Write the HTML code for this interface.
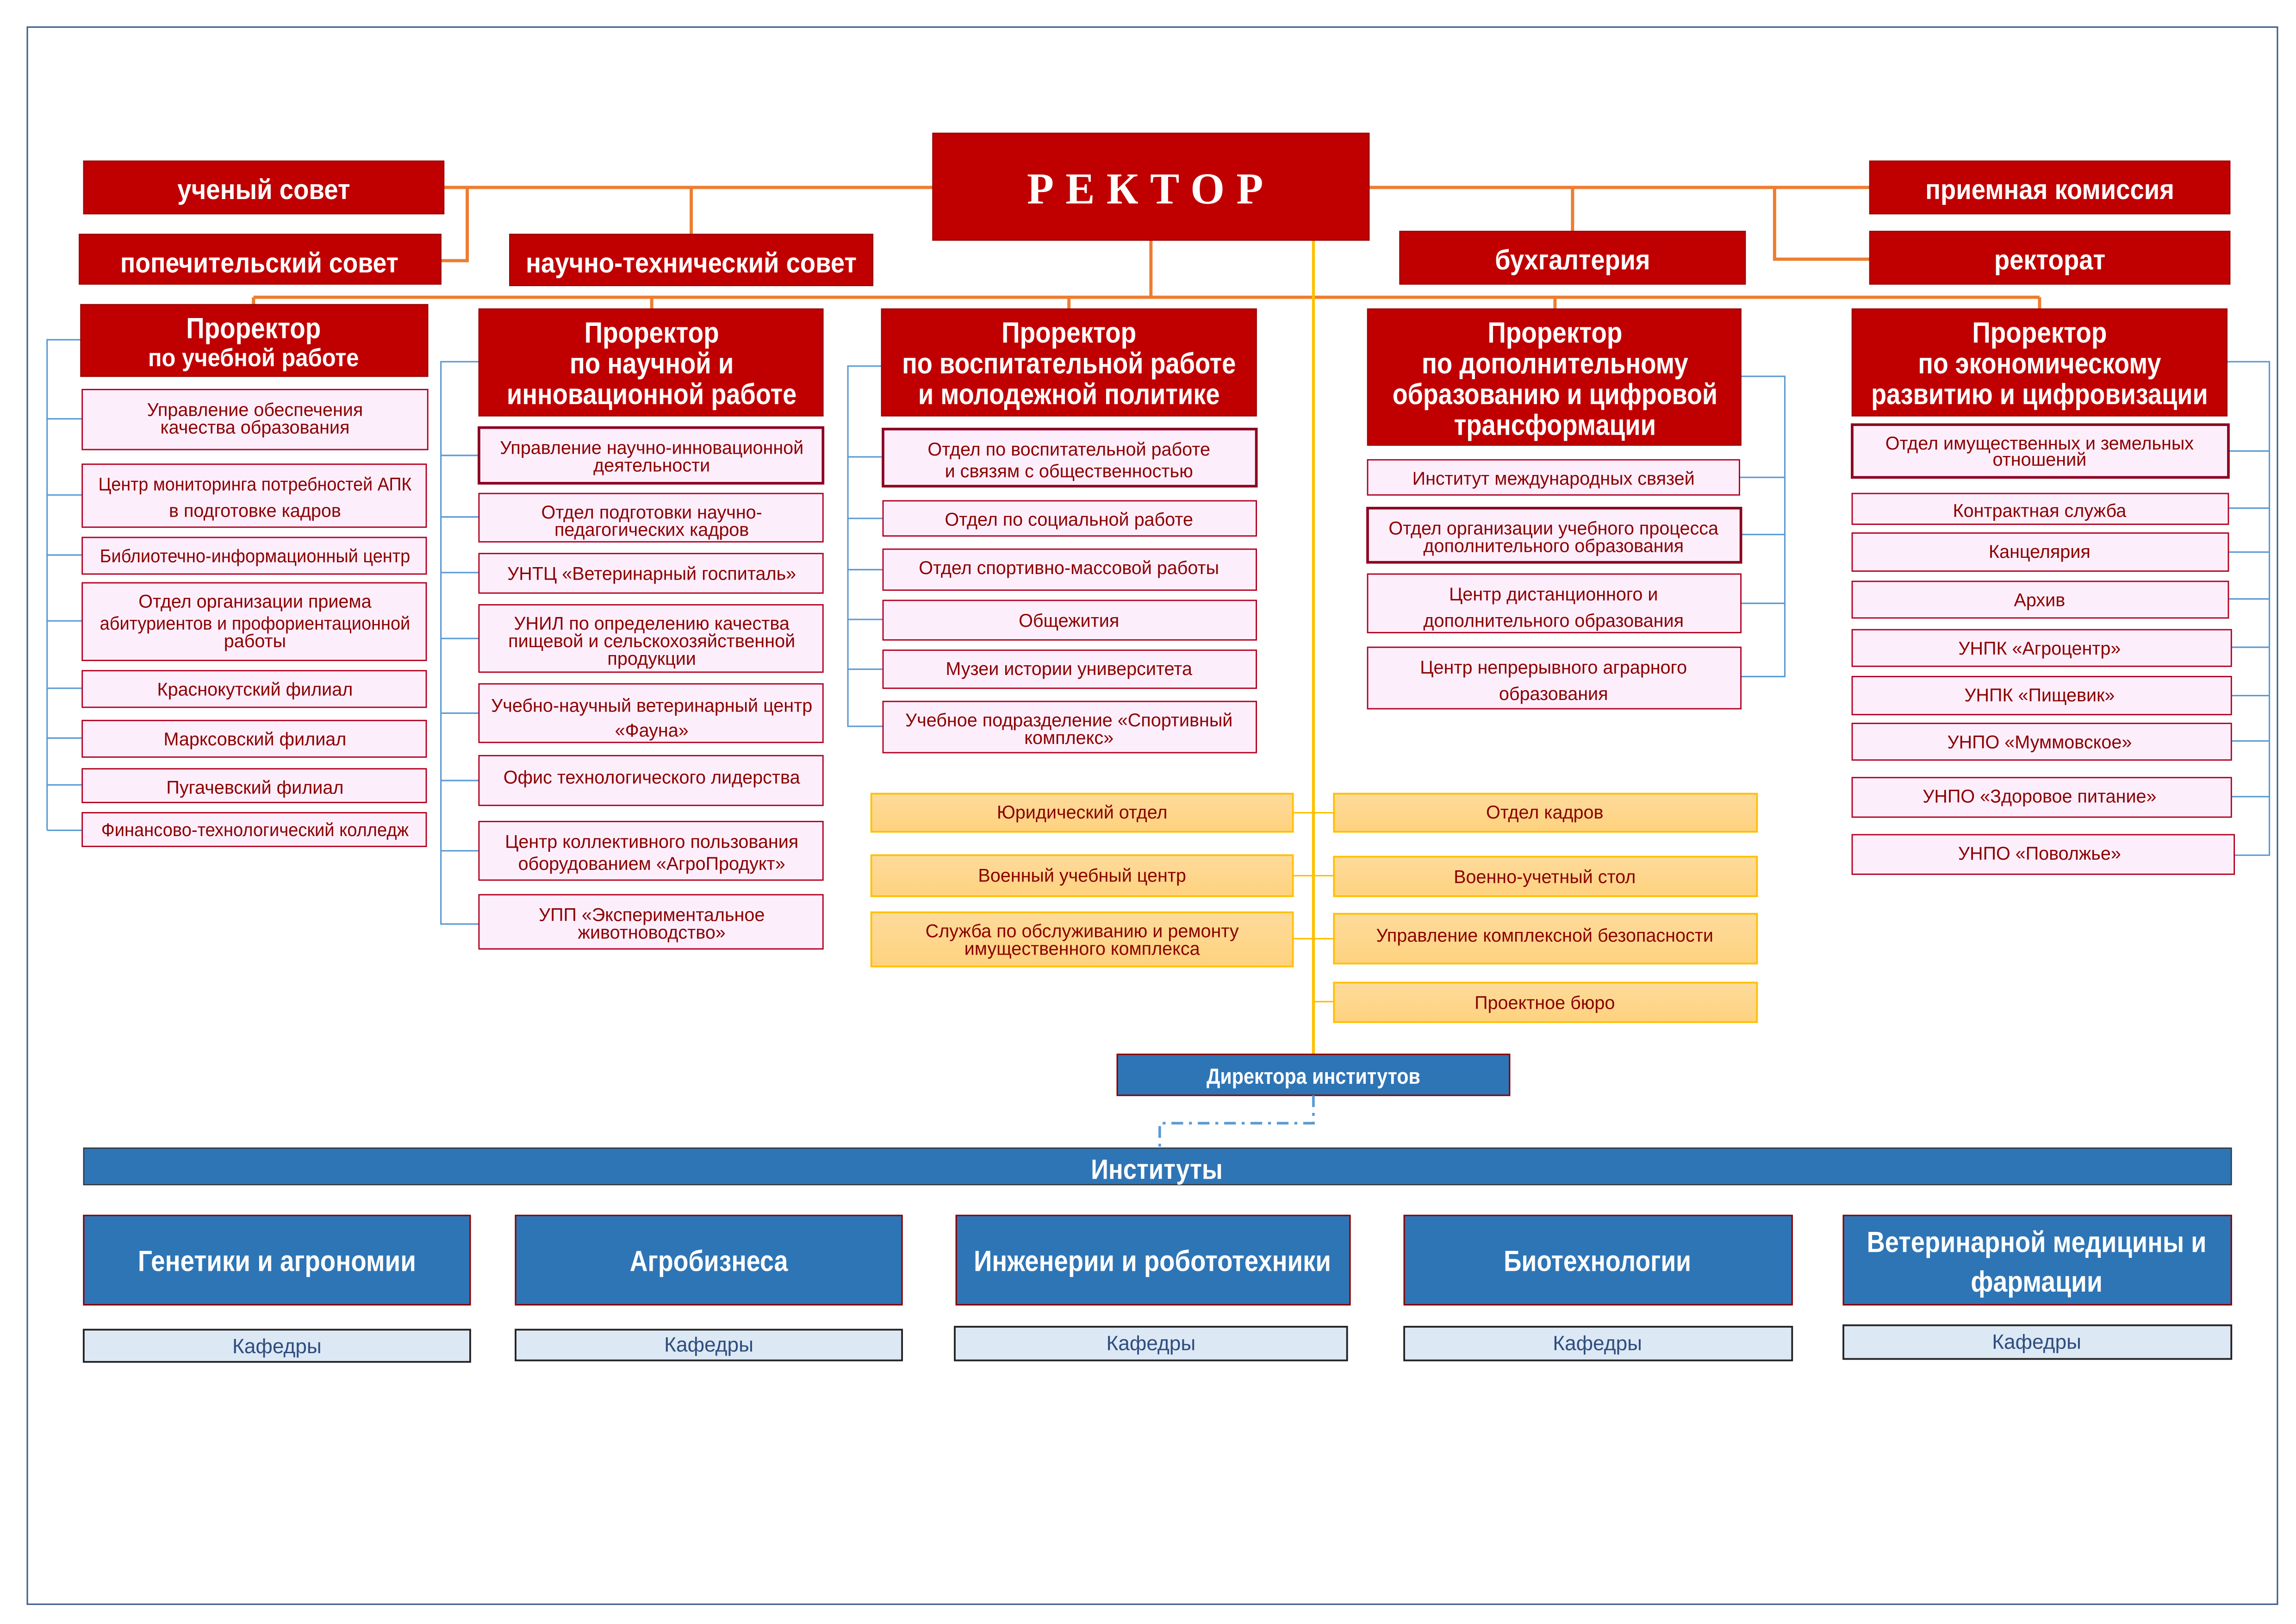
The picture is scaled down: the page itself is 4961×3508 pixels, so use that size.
<!DOCTYPE html>
<html><head><meta charset="utf-8"><style>
html,body{margin:0;padding:0;background:#fff;}
svg{display:block;}
text{font-family:"Liberation Sans Narrow","Liberation Sans","DejaVu Sans",sans-serif;text-anchor:middle;}
.w{fill:#fff;font-weight:bold;}
.d{fill:#8b0000;font-size:12.5px;}
.r{fill:#c00000;stroke:#9a0000;stroke-width:0.8;}
.p{fill:#fdeefc;stroke:#b00020;stroke-width:0.9;}
.pt{fill:#fdeefc;stroke:#8b0020;stroke-width:1.8;}
.y{fill:url(#yg);stroke:#ffc000;stroke-width:1.2;}
.o{stroke:#ed7d31;stroke-width:2.2;fill:none;}
.b{stroke:#5b9bd5;stroke-width:1;fill:none;}
.yl{stroke:#ffc000;stroke-width:2;fill:none;}
.bl{fill:#2e75b6;stroke:#8b0000;stroke-width:1;}
.k{fill:#dde8f5;stroke:#222;stroke-width:1.2;}
.kt{fill:#2e4e7e;font-size:14px;}
</style></head><body>
<svg width="4961" height="3508" viewBox="0 0 1568 1109" xmlns="http://www.w3.org/2000/svg">
<defs><linearGradient id="yg" x1="0" y1="0" x2="0" y2="1"><stop offset="0" stop-color="#fedb9c"/><stop offset="1" stop-color="#fed27e"/></linearGradient></defs>
<rect x="0" y="0" width="1568" height="1109" fill="#fff"/>
<rect x="18.5" y="18.5" width="1537" height="1077" fill="none" stroke="#3f5f8f" stroke-width="1"/>

<path class="o" d="M303 128H637M319 128V178H301M472 128V160M935 128H1277M1074 128V158M1212 128V177H1277M786 164V203M173 203H1393M173 203V208M445 203V211M730 203V211M1062 203V211M1393 203V211"/>
<path class="yl" d="M897 164V720"/>
<path class="yl" style="stroke-width:1" d="M883 555H911M883 598H911M883 641H911M897 684H911"/>

<path class="b" d="M55 232H32V567M32 286H56M32 338H56M32 379H56M32 424H56M32 470H56M32 504H56M32 536H56M32 567H56"/>
<path class="b" d="M327 247H301V631H327M301 311H327M301 353H327M301 391H327M301 436H327M301 487H327M301 533H327M301 581H327"/>
<path class="b" d="M602 250H579V496H603M579 312H603M579 354H603M579 389H603M579 423H603M579 457H603"/>
<path class="b" d="M1189 257H1219V462H1189M1188 326H1219M1189 365H1219M1189 412H1219"/>
<path class="b" d="M1521 247H1550V584H1526M1522 308H1550M1522 347H1550M1522 377H1550M1522 409H1550M1524 442H1550M1524 475H1550M1524 506H1550M1524 544H1550"/>

<rect class="r" x="637" y="91" width="298" height="73"/>
<text x="786" y="139" style="font-family:'Liberation Serif',serif;font-size:30px;letter-spacing:8px;font-weight:bold" fill="#fff">РЕКТОР</text>

<rect class="r" x="57" y="110" width="246" height="36"/><text class="w" x="180" y="136" font-size="19" textLength="118" lengthAdjust="spacingAndGlyphs">ученый совет</text>
<rect class="r" x="54" y="160" width="247" height="34"/><text class="w" x="177" y="186" font-size="19" textLength="190" lengthAdjust="spacingAndGlyphs">попечительский совет</text>
<rect class="r" x="348" y="160" width="248" height="35"/><text class="w" x="472" y="186" font-size="19" textLength="226" lengthAdjust="spacingAndGlyphs">научно-технический совет</text>
<rect class="r" x="956" y="158" width="236" height="36"/><text class="w" x="1074" y="184" font-size="19" textLength="106" lengthAdjust="spacingAndGlyphs">бухгалтерия</text>
<rect class="r" x="1277" y="110" width="246" height="36"/><text class="w" x="1400" y="136" font-size="19" textLength="170" lengthAdjust="spacingAndGlyphs">приемная комиссия</text>
<rect class="r" x="1277" y="158" width="246" height="36"/><text class="w" x="1400" y="184" font-size="19" textLength="76" lengthAdjust="spacingAndGlyphs">ректорат</text>

<rect class="r" x="55" y="208" width="237" height="49"/>
<text class="w" x="173" y="231" font-size="20" textLength="92" lengthAdjust="spacingAndGlyphs">Проректор</text><text class="w" x="173" y="250" font-size="17" textLength="144" lengthAdjust="spacingAndGlyphs">по учебной работе</text>
<rect class="r" x="327" y="211" width="235" height="73"/>
<text class="w" x="445" y="234" font-size="20" textLength="92" lengthAdjust="spacingAndGlyphs">Проректор</text><text class="w" x="445" y="255" font-size="20" textLength="112" lengthAdjust="spacingAndGlyphs">по научной и</text><text class="w" x="445" y="276" font-size="20" textLength="198" lengthAdjust="spacingAndGlyphs">инновационной работе</text>
<rect class="r" x="602" y="211" width="256" height="73"/>
<text class="w" x="730" y="234" font-size="20" textLength="92" lengthAdjust="spacingAndGlyphs">Проректор</text><text class="w" x="730" y="255" font-size="20" textLength="228" lengthAdjust="spacingAndGlyphs">по воспитательной работе</text><text class="w" x="730" y="276" font-size="20" textLength="206" lengthAdjust="spacingAndGlyphs">и молодежной политике</text>
<rect class="r" x="934" y="211" width="255" height="93"/>
<text class="w" x="1062" y="234" font-size="20" textLength="92" lengthAdjust="spacingAndGlyphs">Проректор</text><text class="w" x="1062" y="255" font-size="20" textLength="182" lengthAdjust="spacingAndGlyphs">по дополнительному</text><text class="w" x="1062" y="276" font-size="20" textLength="222" lengthAdjust="spacingAndGlyphs">образованию и цифровой</text><text class="w" x="1062" y="297" font-size="20" textLength="138" lengthAdjust="spacingAndGlyphs">трансформации</text>
<rect class="r" x="1265" y="211" width="256" height="73"/>
<text class="w" x="1393" y="234" font-size="20" textLength="92" lengthAdjust="spacingAndGlyphs">Проректор</text><text class="w" x="1393" y="255" font-size="20" textLength="166" lengthAdjust="spacingAndGlyphs">по экономическому</text><text class="w" x="1393" y="276" font-size="20" textLength="230" lengthAdjust="spacingAndGlyphs">развитию и цифровизации</text>

<rect class="p" x="56" y="266" width="236" height="41"/><text class="d" x="174" y="284">Управление обеспечения</text><text class="d" x="174" y="296">качества образования</text>
<rect class="p" x="56" y="317" width="235" height="43"/><text class="d" x="174" y="335" textLength="214" lengthAdjust="spacingAndGlyphs">Центр мониторинга потребностей АПК</text><text class="d" x="174" y="353">в подготовке кадров</text>
<rect class="p" x="56" y="367" width="235" height="25"/><text class="d" x="174" y="384" textLength="212" lengthAdjust="spacingAndGlyphs">Библиотечно-информационный центр</text>
<rect class="p" x="56" y="398" width="235" height="53"/><text class="d" x="174" y="415">Отдел организации приема</text><text class="d" x="174" y="430" textLength="212" lengthAdjust="spacingAndGlyphs">абитуриентов и профориентационной</text><text class="d" x="174" y="442">работы</text>
<rect class="p" x="56" y="458" width="235" height="25"/><text class="d" x="174" y="475">Краснокутский филиал</text>
<rect class="p" x="56" y="492" width="235" height="25"/><text class="d" x="174" y="509">Марксовский филиал</text>
<rect class="p" x="56" y="525" width="235" height="23"/><text class="d" x="174" y="542">Пугачевский филиал</text>
<rect class="p" x="56" y="555" width="235" height="23"/><text class="d" x="174" y="571" textLength="210" lengthAdjust="spacingAndGlyphs">Финансово-технологический колледж</text>

<rect class="pt" x="327" y="292" width="235" height="38"/><text class="d" x="445" y="310">Управление научно-инновационной</text><text class="d" x="445" y="322">деятельности</text>
<rect class="p" x="327" y="337" width="235" height="33"/><text class="d" x="445" y="354">Отдел подготовки научно-</text><text class="d" x="445" y="366">педагогических кадров</text>
<rect class="p" x="327" y="378" width="235" height="27"/><text class="d" x="445" y="396">УНТЦ «Ветеринарный госпиталь»</text>
<rect class="p" x="327" y="413" width="235" height="46"/><text class="d" x="445" y="430">УНИЛ по определению качества</text><text class="d" x="445" y="442">пищевой и сельскохозяйственной</text><text class="d" x="445" y="454">продукции</text>
<rect class="p" x="327" y="467" width="235" height="40"/><text class="d" x="445" y="486">Учебно-научный ветеринарный центр</text><text class="d" x="445" y="503">«Фауна»</text>
<rect class="p" x="327" y="516" width="235" height="34"/><text class="d" x="445" y="535">Офис технологического лидерства</text>
<rect class="p" x="327" y="561" width="235" height="40"/><text class="d" x="445" y="579">Центр коллективного пользования</text><text class="d" x="445" y="594">оборудованием «АгроПродукт»</text>
<rect class="p" x="327" y="611" width="235" height="37"/><text class="d" x="445" y="629">УПП «Экспериментальное</text><text class="d" x="445" y="641">животноводство»</text>

<rect class="pt" x="603" y="293" width="255" height="39"/><text class="d" x="730" y="311">Отдел по воспитательной работе</text><text class="d" x="730" y="326">и связям с общественностью</text>
<rect class="p" x="603" y="342" width="255" height="24"/><text class="d" x="730" y="359">Отдел по социальной работе</text>
<rect class="p" x="603" y="375" width="255" height="28"/><text class="d" x="730" y="392">Отдел спортивно-массовой работы</text>
<rect class="p" x="603" y="410" width="255" height="27"/><text class="d" x="730" y="428">Общежития</text>
<rect class="p" x="603" y="444" width="255" height="26"/><text class="d" x="730" y="461">Музеи истории университета</text>
<rect class="p" x="603" y="479" width="255" height="35"/><text class="d" x="730" y="496">Учебное подразделение «Спортивный</text><text class="d" x="730" y="508">комплекс»</text>

<rect class="p" x="934" y="314" width="254" height="24"/><text class="d" x="1061" y="331">Институт международных связей</text>
<rect class="pt" x="934" y="347" width="255" height="37"/><text class="d" x="1061" y="365">Отдел организации учебного процесса</text><text class="d" x="1061" y="377">дополнительного образования</text>
<rect class="p" x="934" y="392" width="255" height="40"/><text class="d" x="1061" y="410">Центр дистанционного и</text><text class="d" x="1061" y="428">дополнительного образования</text>
<rect class="p" x="934" y="442" width="255" height="42"/><text class="d" x="1061" y="460">Центр непрерывного аграрного</text><text class="d" x="1061" y="478">образования</text>

<rect class="pt" x="1265" y="290" width="257" height="36"/><text class="d" x="1393" y="307">Отдел имущественных и земельных</text><text class="d" x="1393" y="318">отношений</text>
<rect class="p" x="1265" y="337" width="257" height="21"/><text class="d" x="1393" y="353">Контрактная служба</text>
<rect class="p" x="1265" y="364" width="257" height="26"/><text class="d" x="1393" y="381">Канцелярия</text>
<rect class="p" x="1265" y="397" width="257" height="25"/><text class="d" x="1393" y="414">Архив</text>
<rect class="p" x="1265" y="430" width="259" height="25"/><text class="d" x="1393" y="447">УНПК «Агроцентр»</text>
<rect class="p" x="1265" y="462" width="259" height="26"/><text class="d" x="1393" y="479">УНПК «Пищевик»</text>
<rect class="p" x="1265" y="494" width="259" height="25"/><text class="d" x="1393" y="511">УНПО «Муммовское»</text>
<rect class="p" x="1265" y="531" width="259" height="27"/><text class="d" x="1393" y="548">УНПО «Здоровое питание»</text>
<rect class="p" x="1265" y="570" width="261" height="27"/><text class="d" x="1393" y="587">УНПО «Поволжье»</text>

<rect class="y" x="595" y="542" width="288" height="26"/><text class="d" x="739" y="559">Юридический отдел</text>
<rect class="y" x="595" y="584" width="288" height="28"/><text class="d" x="739" y="602">Военный учебный центр</text>
<rect class="y" x="595" y="623" width="288" height="37"/><text class="d" x="739" y="640">Служба по обслуживанию и ремонту</text><text class="d" x="739" y="652">имущественного комплекса</text>
<rect class="y" x="911" y="542" width="289" height="26"/><text class="d" x="1055" y="559">Отдел кадров</text>
<rect class="y" x="911" y="585" width="289" height="27"/><text class="d" x="1055" y="603">Военно-учетный стол</text>
<rect class="y" x="911" y="624" width="289" height="34"/><text class="d" x="1055" y="643">Управление комплексной безопасности</text>
<rect class="y" x="911" y="671" width="289" height="27"/><text class="d" x="1055" y="689">Проектное бюро</text>

<rect class="bl" x="763" y="720" width="268" height="28"/><text class="w" x="897" y="740" font-size="15" textLength="146" lengthAdjust="spacingAndGlyphs">Директора институтов</text>
<path d="M897 748V767H792V784" stroke="#5b9bd5" stroke-width="1.8" fill="none" stroke-dasharray="8,4,2,4"/>
<rect x="57" y="784" width="1467" height="25" fill="#2e75b6" stroke="#333" stroke-width="0.8"/>
<text class="w" x="790" y="805" font-size="19" textLength="90" lengthAdjust="spacingAndGlyphs">Институты</text>

<rect class="bl" x="57" y="830" width="264" height="61"/><text class="w" x="189" y="868" font-size="20" textLength="190" lengthAdjust="spacingAndGlyphs">Генетики и агрономии</text>
<rect class="bl" x="352" y="830" width="264" height="61"/><text class="w" x="484" y="868" font-size="20" textLength="108" lengthAdjust="spacingAndGlyphs">Агробизнеса</text>
<rect class="bl" x="653" y="830" width="269" height="61"/><text class="w" x="787" y="868" font-size="20" textLength="244" lengthAdjust="spacingAndGlyphs">Инженерии и робототехники</text>
<rect class="bl" x="959" y="830" width="265" height="61"/><text class="w" x="1091" y="868" font-size="20" textLength="128" lengthAdjust="spacingAndGlyphs">Биотехнологии</text>
<rect class="bl" x="1259" y="830" width="265" height="61"/><text class="w" x="1391" y="855" font-size="20" textLength="232" lengthAdjust="spacingAndGlyphs">Ветеринарной медицины и</text><text class="w" x="1391" y="882" font-size="20" textLength="90" lengthAdjust="spacingAndGlyphs">фармации</text>

<rect class="k" x="57" y="908" width="264" height="22"/><text class="kt" x="189" y="924">Кафедры</text>
<rect class="k" x="352" y="908" width="264" height="21"/><text class="kt" x="484" y="923">Кафедры</text>
<rect class="k" x="652" y="906" width="268" height="23"/><text class="kt" x="786" y="922">Кафедры</text>
<rect class="k" x="959" y="906" width="265" height="23"/><text class="kt" x="1091" y="922">Кафедры</text>
<rect class="k" x="1259" y="905" width="265" height="23"/><text class="kt" x="1391" y="921">Кафедры</text>
</svg>
</body></html>
